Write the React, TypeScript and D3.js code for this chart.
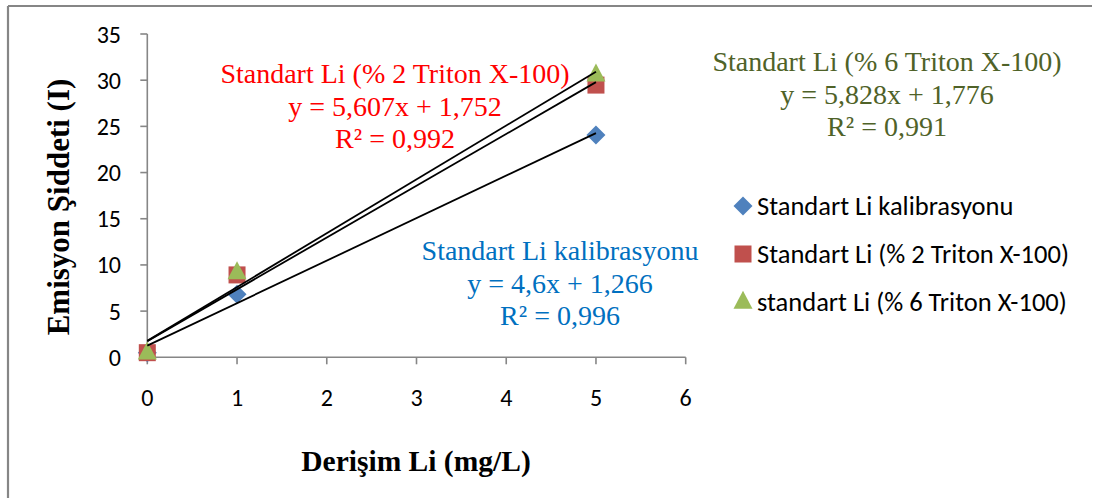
import React from "react";
import * as d3 from "d3";

// Concentration levels (mg/L)
const concentrations = [0, 1, 5];
// Emission intensity readings for each series
const seriesNames = [
  "Standart Li kalibrasyonu",
  "Standart Li (% 2 Triton X-100)",
  "standart Li (% 6 Triton X-100)",
];
const kalibrasyonValues = [0.5, 6.83, 24.07];
const triton2Values = [0.5, 8.92, 29.47];
const triton6Values = [0.5, 9.2, 30.6];

// Linear trendline coefficients (slope, intercept) and R²
const trendSlopes = [4.6, 5.607, 5.828];
const trendIntercepts = [1.266, 1.752, 1.776];
const trendR2 = ["0,996", "0,992", "0,991"];
const equationTexts = ["y = 4,6x + 1,266", "y = 5,607x + 1,752", "y = 5,828x + 1,776"];
const equationTitles = ["Standart Li kalibrasyonu", "Standart Li (% 2 Triton X-100)", "Standart Li (% 6 Triton X-100)"];

const xTicks = [0, 1, 2, 3, 4, 5, 6];
const yTicks = [0, 5, 10, 15, 20, 25, 30, 35];

const W = 1097;
const H = 498;
const axisColor = "#868686";
const markerColors = ["#4F81BD", "#C0504D", "#9BBB59"];
const labelColors = ["#0070C0", "#FF0000", "#4F6228"];
const sansFont = "Carlito, Lato, 'Liberation Sans', sans-serif";
const serifFont = "'Liberation Serif', 'Times New Roman', serif";

function Marker({ kind, x, y, color }: { kind: number; x: number; y: number; color: string }) {
  if (kind === 0) {
    const r = 9.5;
    return <path d={`M${x},${y - r}L${x + r},${y}L${x},${y + r}L${x - r},${y}Z`} fill={color} />;
  }
  if (kind === 1) {
    const s = 17;
    return <rect x={x - s / 2} y={y - s / 2} width={s} height={s} fill={color} />;
  }
  const s = 19;
  const h = 18;
  return <path d={`M${x},${y - h * 0.62}L${x + s / 2},${y + h * 0.38}L${x - s / 2},${y + h * 0.38}Z`} fill={color} />;
}

export default function App() {
  const x = d3.scaleLinear().domain([0, 6]).range([147.3, 685.7]);
  const y = d3.scaleLinear().domain([0, 35]).range([357.3, 34]);
  const allSeries = [kalibrasyonValues, triton2Values, triton6Values];

  // Equation label anchors (center x, first baseline y)
  const labelAnchors = [
    { cx: 560, by: 260 },
    { cx: 395, by: 83 },
    { cx: 887, by: 71 },
  ];
  const lineGap = 32.5;

  const legendRows = [206, 254, 302];

  return (
    <svg
      width={W}
      height={H}
      style={{ position: "absolute", left: 0, top: 0, background: "#fff" }}
    >
      {/* outer frame */}
      <line x1={8} y1={6} x2={1092} y2={6} stroke={axisColor} strokeWidth={2.2} />
      <line x1={8} y1={6} x2={8} y2={H} stroke={axisColor} strokeWidth={2.2} />

      {/* axes */}
      <line x1={x(0)} y1={y(0)} x2={x(6)} y2={y(0)} stroke={axisColor} strokeWidth={1.6} />
      <line x1={x(0)} y1={y(0)} x2={x(0)} y2={y(35)} stroke={axisColor} strokeWidth={1.6} />
      {yTicks.map((t) => (
        <g key={"y" + t}>
          <line x1={x(0) - 7} x2={x(0)} y1={y(t)} y2={y(t)} stroke={axisColor} strokeWidth={1.6} />
          <text
            x={121}
            y={y(t)}
            textAnchor="end"
            dominantBaseline="central"
            fontFamily={sansFont}
            fontSize={24}
            fill="#000"
          >
            {t}
          </text>
        </g>
      ))}
      {xTicks.map((t) => (
        <g key={"x" + t}>
          <line x1={x(t)} x2={x(t)} y1={y(0)} y2={y(0) + 7} stroke={axisColor} strokeWidth={1.6} />
          <text
            x={x(t)}
            y={397}
            textAnchor="middle"
            dominantBaseline="central"
            fontFamily={sansFont}
            fontSize={24}
            fill="#000"
          >
            {t}
          </text>
        </g>
      ))}

      {/* axis titles */}
      <text
        transform="translate(69,207) rotate(-90)"
        textAnchor="middle"
        fontFamily={serifFont}
        fontWeight="bold"
        fontSize={31}
        fill="#000"
      >
        Emisyon Şiddeti (I)
      </text>
      <text
        x={416}
        y={471}
        textAnchor="middle"
        fontFamily={serifFont}
        fontWeight="bold"
        fontSize={29.5}
        fill="#000"
      >
        Derişim Li (mg/L)
      </text>

      {/* markers */}
      {allSeries.map((vals, si) =>
        vals.map((v, i) => (
          <Marker key={si + "-" + i} kind={si} x={x(concentrations[i])} y={y(v)} color={markerColors[si]} />
        ))
      )}

      {/* linear trendlines over the measured range */}
      {trendSlopes.map((m, si) => {
        const xs = [concentrations[0], concentrations[concentrations.length - 1]];
        const pts = xs.map((c) => [x(c), y(m * c + trendIntercepts[si])] as [number, number]);
        const p = d3.line()(pts) || "";
        return <path key={"t" + si} d={p} stroke="#000" strokeWidth={1.8} fill="none" />;
      })}

      {/* trendline equations */}
      {labelAnchors.map((a, si) => (
        <text
          key={"lab" + si}
          textAnchor="middle"
          fontFamily={serifFont}
          fontSize={28}
          fill={labelColors[si]}
        >
          <tspan x={a.cx} y={a.by}>
            {equationTitles[si]}
          </tspan>
          <tspan x={a.cx} y={a.by + lineGap}>
            {equationTexts[si]}
          </tspan>
          <tspan x={a.cx} y={a.by + 2 * lineGap}>
            {"R² = " + trendR2[si]}
          </tspan>
        </text>
      ))}

      {/* legend */}
      {seriesNames.map((name, si) => (
        <g key={"leg" + si}>
          <Marker kind={si} x={743} y={legendRows[si]} color={markerColors[si]} />
          <text
            x={757}
            y={legendRows[si]}
            dominantBaseline="central"
            fontFamily={sansFont}
            fontSize={26.5}
            fill="#000"
          >
            {name}
          </text>
        </g>
      ))}
    </svg>
  );
}
